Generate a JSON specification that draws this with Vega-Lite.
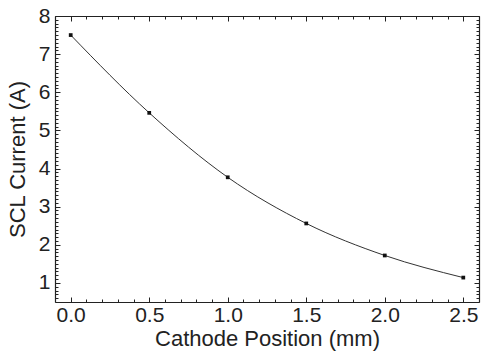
{
  "$schema": "https://vega.github.io/schema/vega-lite/v6.json",
  "width": 424,
  "height": 286,
  "autosize": {"type": "none"},
  "padding": {"left": 55, "top": 16, "right": 2, "bottom": 52},
  "background": "white",
  "config": {
    "view": {"stroke": null},
    "axis": {
      "labelFont": "Liberation Sans",
      "titleFont": "Liberation Sans",
      "labelFontSize": 21,
      "titleFontSize": 22,
      "titleFontWeight": "normal",
      "labelColor": "#222",
      "titleColor": "#222",
      "domainColor": "#222",
      "tickColor": "#222",
      "domainWidth": 1.2,
      "tickWidth": 1,
      "grid": false
    }
  },
  "data": {
    "values": [
      {"pos": 0.0, "current": 7.5},
      {"pos": 0.5, "current": 5.46},
      {"pos": 1.0, "current": 3.77},
      {"pos": 1.5, "current": 2.56},
      {"pos": 2.0, "current": 1.72},
      {"pos": 2.5, "current": 1.14}
    ]
  },
  "resolve": {"axis": {"x": "independent", "y": "independent"}},
  "layer": [
    {
      "mark": {"type": "line", "interpolate": "monotone", "color": "#333", "strokeWidth": 1},
      "encoding": {
        "x": {"field": "pos", "type": "quantitative", "scale": {"domain": [-0.1, 2.6], "nice": false, "zero": false},
          "axis": {"orient": "bottom", "title": "Cathode Position (mm)", "values": [0, 0.5, 1, 1.5, 2, 2.5], "format": ".1f", "ticks": false, "labelPadding": 2, "titlePadding": 3}},
        "y": {"field": "current", "type": "quantitative", "scale": {"domain": [0.5, 8], "nice": false, "zero": false},
          "axis": {"orient": "left", "title": "SCL Current (A)", "values": [1, 2, 3, 4, 5, 6, 7, 8], "format": "d", "ticks": false, "labelPadding": 5, "titlePadding": 9}}
      }
    },
    {
      "mark": {"type": "square", "color": "#111", "size": 14, "opacity": 1, "filled": true},
      "encoding": {
        "x": {"field": "pos", "type": "quantitative",
          "axis": {"orient": "bottom", "title": null, "labels": false, "domain": false, "values": [-0.1, 0.1, 0.2, 0.3, 0.4, 0.6, 0.7, 0.8, 0.9, 1.1, 1.2, 1.3, 1.4, 1.6, 1.7, 1.8, 1.9, 2.1, 2.2, 2.3, 2.4, 2.6], "tickSize": -3}},
        "y": {"field": "current", "type": "quantitative",
          "axis": {"orient": "left", "title": null, "labels": false, "domain": false, "values": [0.6, 0.7, 0.8, 0.9, 1.1, 1.2, 1.3, 1.4, 1.5, 1.6, 1.7, 1.8, 1.9, 2.1, 2.2, 2.3, 2.4, 2.5, 2.6, 2.7, 2.8, 2.9, 3.1, 3.2, 3.3, 3.4, 3.5, 3.6, 3.7, 3.8, 3.9, 4.1, 4.2, 4.3, 4.4, 4.5, 4.6, 4.7, 4.8, 4.9, 5.1, 5.2, 5.3, 5.4, 5.5, 5.6, 5.7, 5.8, 5.9, 6.1, 6.2, 6.3, 6.4, 6.5, 6.6, 6.7, 6.8, 6.9, 7.1, 7.2, 7.3, 7.4, 7.5, 7.6, 7.7, 7.8, 7.9], "tickSize": -3}}
      }
    },
    {
      "mark": {"type": "point", "opacity": 0},
      "encoding": {
        "x": {"field": "pos", "type": "quantitative",
          "axis": {"orient": "top", "title": null, "labels": false, "values": [0, 0.5, 1, 1.5, 2, 2.5], "tickSize": -5}},
        "y": {"field": "current", "type": "quantitative",
          "axis": {"orient": "right", "title": null, "labels": false, "values": [1, 2, 3, 4, 5, 6, 7, 8], "tickSize": -5}}
      }
    },
    {
      "mark": {"type": "point", "opacity": 0},
      "encoding": {
        "x": {"field": "pos", "type": "quantitative",
          "axis": {"orient": "top", "title": null, "labels": false, "domain": false, "values": [-0.1, 0.1, 0.2, 0.3, 0.4, 0.6, 0.7, 0.8, 0.9, 1.1, 1.2, 1.3, 1.4, 1.6, 1.7, 1.8, 1.9, 2.1, 2.2, 2.3, 2.4, 2.6], "tickSize": -3}},
        "y": {"field": "current", "type": "quantitative",
          "axis": {"orient": "right", "title": null, "labels": false, "domain": false, "values": [0.6, 0.7, 0.8, 0.9, 1.1, 1.2, 1.3, 1.4, 1.5, 1.6, 1.7, 1.8, 1.9, 2.1, 2.2, 2.3, 2.4, 2.5, 2.6, 2.7, 2.8, 2.9, 3.1, 3.2, 3.3, 3.4, 3.5, 3.6, 3.7, 3.8, 3.9, 4.1, 4.2, 4.3, 4.4, 4.5, 4.6, 4.7, 4.8, 4.9, 5.1, 5.2, 5.3, 5.4, 5.5, 5.6, 5.7, 5.8, 5.9, 6.1, 6.2, 6.3, 6.4, 6.5, 6.6, 6.7, 6.8, 6.9, 7.1, 7.2, 7.3, 7.4, 7.5, 7.6, 7.7, 7.8, 7.9], "tickSize": -3}}
      }
    },
    {
      "mark": {"type": "point", "opacity": 0},
      "encoding": {
        "x": {"field": "pos", "type": "quantitative",
          "axis": {"orient": "bottom", "title": null, "labels": false, "domain": false, "values": [0, 0.5, 1, 1.5, 2, 2.5], "tickSize": -5}},
        "y": {"field": "current", "type": "quantitative",
          "axis": {"orient": "left", "title": null, "labels": false, "domain": false, "values": [1, 2, 3, 4, 5, 6, 7, 8], "tickSize": -5}}
      }
    }
  ]
}
